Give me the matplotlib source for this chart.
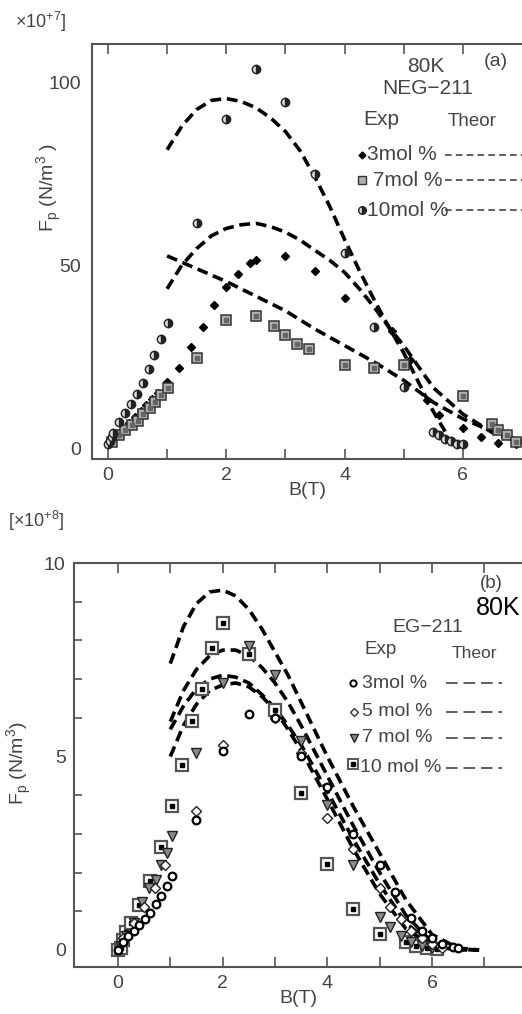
import numpy as np
import matplotlib
matplotlib.use("Agg")
from matplotlib import pyplot as plt
from matplotlib.lines import Line2D

plt.rcParams['font.family'] = ['Liberation Sans', 'DejaVu Sans']

W, H = 522, 1014

# ---------------- panel (a) NEG-211 data ----------------
a3_b = [0.05, 0.15, 0.25, 0.35, 0.45, 0.55, 0.65, 0.75, 0.85, 1.0, 1.2, 1.4, 1.6, 1.8, 2.0, 2.2, 2.4, 2.5,
        3.0, 3.5, 4.0, 4.8, 5.1, 5.4, 5.6, 6.0, 6.3, 6.6, 6.9]
a3_f = [2, 3.5, 5, 6.8, 8.5, 10, 11.8, 13.5, 15, 18, 22, 27.5, 33, 39, 44, 47.5, 50.5, 51.5,
        52.5, 48.5, 41, 32, 24, 13, 9, 5.5, 3, 1.5, 1]

a7_b = [0.06, 0.19, 0.29, 0.4, 0.5, 0.6, 0.71, 0.8, 0.9, 1.01, 1.5, 2.0, 2.5, 2.8, 3.0, 3.2, 3.4,
        4.0, 4.5, 5.0, 6.0, 6.5, 6.6, 6.75, 6.9]
a7_f = [1.7, 3.6, 4.9, 6.3, 7.5, 9.2, 10.8, 12.7, 14.5, 16.3, 24.5, 35, 36, 33.3, 30.9, 28.4, 27,
        22.7, 21.8, 22.7, 14.3, 6.5, 4.9, 3.6, 1.7]

a10_b = [0.0, 0.03, 0.06, 0.09, 0.19, 0.29, 0.39, 0.49, 0.6, 0.7, 0.77, 0.9, 1.01, 1.5, 2.0, 2.5,
         3.0, 3.5, 4.0, 4.5, 5.0, 5.5, 5.6, 5.7, 5.8, 5.9, 6.0]
a10_f = [1, 2, 3, 4.2, 7.1, 9.6, 12, 14.8, 17.8, 21.6, 25.4, 29.8, 34.2, 61.5, 90, 103.5,
         94.6, 75, 53.4, 33, 16.6, 4.5, 3.5, 2.6, 1.8, 1.2, 1.0]

# theory curves (a)
tha_hi_b = [1.0, 1.25, 1.5, 1.75, 2.0, 2.25, 2.5, 2.75, 3.0, 3.25, 3.5, 3.75, 4.0, 4.25, 4.5, 4.75,
            5.0, 5.25, 5.5, 5.7]
tha_hi_f = [81.5, 88, 92.5, 95, 95.5, 94.7, 93, 90.2, 86.5, 81.2, 74, 66, 57, 48.5, 40.5, 33,
            26, 18, 10, 4.5]
tha_mid_b = [1.0, 1.25, 1.5, 1.75, 2.0, 2.25, 2.5, 2.75, 3.0, 3.25, 3.5, 3.75, 4.0, 4.25, 4.5, 4.75,
             5.0, 5.5, 6.0, 6.5, 7.0]
tha_mid_f = [43.5, 50, 54.5, 58, 60, 61, 61.4, 60.5, 59, 56.8, 54, 51.3, 48, 43.5, 38.5, 33,
             28, 16.5, 9.3, 4.2, 1.3]
tha_lo_b = [1.0, 1.5, 2.0, 2.5, 3.0, 3.5, 4.0, 4.5, 5.0, 5.5, 6.0, 6.5, 7.0]
tha_lo_f = [52.5, 49, 45.5, 41.5, 37.5, 32.5, 28, 23.5, 18.5, 12.5, 8, 4.5, 2]

# ---------------- panel (b) EG-211 data ----------------
b3_b = [0.0, 0.1, 0.2, 0.3, 0.4, 0.52, 0.62, 0.72, 0.83, 0.94, 1.03, 1.5, 2.0, 2.5, 3.0, 3.5, 4.0,
        4.5, 5.0, 5.3, 5.6, 5.8, 6.0, 6.2, 6.4, 6.5]
b3_f = [0.0, 0.2, 0.35, 0.5, 0.65, 0.79, 0.95, 1.19, 1.4, 1.65, 1.91, 3.35, 5.15, 6.1, 6.0, 5.0, 4.2,
        3.0, 2.2, 1.5, 0.82, 0.5, 0.3, 0.15, 0.08, 0.05]

b5_b = [0.1, 0.3, 0.5, 0.7, 0.9, 1.5, 2.0, 3.0, 3.5, 4.0, 4.5, 5.0, 5.2, 5.4, 5.6, 5.8, 6.0, 6.2]
b5_f = [0.3, 0.7, 1.1, 1.6, 2.2, 3.6, 5.3, 6.0, 5.1, 3.4, 2.6, 1.6, 1.1, 0.8, 0.5, 0.3, 0.15, 0.05]

b7_b = [0.05, 0.15, 0.3, 0.45, 0.6, 0.72, 0.83, 0.94, 1.03, 1.5, 2.0, 2.5, 3.0, 3.5, 4.0, 4.5, 5.0,
        5.2, 5.4, 5.6, 5.8, 6.0]
b7_f = [0.1, 0.35, 0.7, 1.25, 1.6, 1.8, 2.2, 2.5, 2.95, 5.1, 6.9, 7.85, 7.1, 5.4, 3.75, 2.2, 0.86,
        0.6, 0.35, 0.2, 0.1, 0.05]

b10_b = [0.0, 0.05, 0.1, 0.15, 0.24, 0.41, 0.62, 0.82, 1.03, 1.23, 1.42, 1.6, 1.8, 2.0, 2.5, 3.0,
         3.5, 4.0, 4.5, 5.0, 5.5, 5.7, 5.9, 6.1]
b10_f = [0.0, 0.05, 0.26, 0.47, 0.69, 1.15, 1.77, 2.67, 3.72, 4.78, 5.92, 6.74, 7.8, 8.45, 7.64, 6.2,
         4.05, 2.21, 1.05, 0.4, 0.2, 0.1, 0.05, 0.03]

thb_b = [1.0, 1.25, 1.5, 1.75, 2.0, 2.25, 2.5, 2.75, 3.0, 3.25, 3.5, 4.0, 4.5, 5.0, 5.5, 6.0, 6.5, 6.9]
thb_10 = [7.4, 8.35, 8.95, 9.25, 9.3, 9.15, 8.8, 8.3, 7.7, 7.1, 6.4, 5.0, 3.7, 2.5, 1.3, 0.4, 0.05, 0.0]
thb_7 = [5.9, 6.7, 7.25, 7.6, 7.75, 7.75, 7.6, 7.3, 6.9, 6.4, 5.8, 4.5, 3.2, 2.0, 0.9, 0.2, 0.02, 0.0]
thb_5 = [5.7, 6.3, 6.75, 7.0, 7.1, 7.05, 6.9, 6.6, 6.25, 5.8, 5.3, 4.1, 2.85, 1.7, 0.7, 0.15, 0.02, 0.0]
thb_3 = [5.0, 5.8, 6.35, 6.7, 6.85, 6.9, 6.8, 6.55, 6.2, 5.7, 5.15, 3.9, 2.6, 1.45, 0.55, 0.1, 0.0, 0.0]

GRAY = "#555555"
TXT = "#444444"
DASH = dict(color="black", lw=2.6, dashes=(3, 1.6), solid_capstyle="butt", dash_capstyle="butt")


def fx(x):
    return x / W


def fy(y):
    return 1 - y / H


def ftext(x, y, s, size=12, color=TXT, **kw):
    fig.text(fx(x), fy(y), s, fontsize=size, color=color, va="center", **kw)


def fline(x0, x1, y, dashes, lw=1.2):
    fig.add_artist(Line2D([fx(x0), fx(x1)], [fy(y), fy(y)], transform=fig.transFigure,
                          color=TXT, lw=lw, dashes=dashes))


def fmark(x, y, **kw):
    fig.add_artist(Line2D([fx(x)], [fy(y)], transform=fig.transFigure, ls="none", **kw))


def style_axes(ax):
    for s in ["left", "bottom", "top"]:
        ax.spines[s].set_color(GRAY)
        ax.spines[s].set_linewidth(1.5)
    ax.spines["right"].set_visible(False)
    ax.tick_params(axis="x", which="both", direction="in", top=True, bottom=True, length=7,
                   width=1.2, color=GRAY, labelsize=14, labelcolor=TXT, pad=6)
    ax.tick_params(axis="y", which="both", direction="in", left=True, right=False, width=1.2,
                   color=GRAY, labelsize=14, labelcolor=TXT)


fig = plt.figure(figsize=(W / 100, H / 100), dpi=100)

# ---------------- panel (a) ----------------
ax1 = fig.add_axes([fx(92), fy(459), (W - 92) / W, (459 - 44) / H])
style_axes(ax1)
ax1.set_xlim(-0.27, 7.0)
ax1.set_ylim(-3, 110.4)
ax1.set_xticks(range(7))
ax1.set_xticklabels(["0", "", "2", "", "4", "", "6"])
ax1.set_yticks([0, 50, 100])
ax1.tick_params(axis="y", length=0, pad=8)

ax1.plot(tha_hi_b, tha_hi_f, **DASH)
ax1.plot(tha_mid_b, tha_mid_f, **DASH)
ax1.plot(tha_lo_b, tha_lo_f, **DASH)

ax1.plot(a3_b, a3_f, ls="none", marker="D", ms=4.2, mfc="black", mec="black")
ax1.plot(a7_b, a7_f, ls="none", marker="s", ms=7, mfc="#b0b0b0", mec="#333333", mew=1.1)
ax1.plot(a7_b, a7_f, ls="none", marker="s", ms=2.5, mfc="#666666", mec="#666666")
ax1.plot(a10_b, a10_f, ls="none", marker="o", ms=6, fillstyle="right", mfc="#222222",
         mfcalt="#dddddd", mec="#222222", mew=1.0)

ax1.set_xlabel("B(T)", fontsize=14, color=TXT, labelpad=-2)
ax1.set_ylabel("F$_\\mathregular{p}$ (N/m$^\\mathregular{3}$ )", fontsize=14, color=TXT)
ax1.yaxis.set_label_coords(-0.065, 0.655)

ftext(15, 22, "×10$^\\mathregular{+7}$]", size=13)
ftext(426, 67, "80K", size=15, ha="center")
ftext(428, 89, "NEG−211", size=15, ha="center")
ftext(496, 62, "(a)", size=14, ha="center")
ftext(363, 120, "Exp", size=15)
ftext(448, 121, "Theor", size=13.5)

leg_a_y = [155, 180, 210]
leg_a_lab = ["3mol %", " 7mol %", "10mol %"]
for yy, lab in zip(leg_a_y, leg_a_lab):
    ftext(367, yy, lab, size=15)
    fline(445, 522, yy, (4, 2.5))
fmark(362, 155, marker="D", ms=3.5, mfc="black", mec="black")
fmark(362, 180, marker="s", ms=5.5, mfc="#b0b0b0", mec="#333333", mew=1)
fmark(362, 210, marker="o", ms=5.5, fillstyle="right", mfc="#222222", mfcalt="#dddddd",
      mec="#222222")

# ---------------- panel (b) ----------------
ax2 = fig.add_axes([fx(74), fy(967), (W - 74) / W, (967 - 563) / H])
style_axes(ax2)
ax2.set_xlim(-0.84, 7.72)
ax2.set_ylim(-0.44, 10)
ax2.set_xticks(range(8))
ax2.set_xticklabels(["0", "", "2", "", "4", "", "6", ""])
ax2.set_yticks([0, 5, 10])
ax2.set_yticks(range(1, 10), minor=True)
ax2.tick_params(axis="y", which="major", length=0, pad=6)
ax2.tick_params(axis="y", which="minor", length=6)

for f in (thb_10, thb_7, thb_5, thb_3):
    ax2.plot(thb_b, f, **DASH)

ax2.plot(b10_b, b10_f, ls="none", marker="s", ms=8, mfc="white", mec="#555555", mew=1.6)
ax2.plot(b10_b, b10_f, ls="none", marker="s", ms=3, mfc="black", mec="black")
ax2.plot(b7_b, b7_f, ls="none", marker="v", ms=7.5, mfc="#8a8a8a", mec="#222222", mew=1.0)
ax2.plot(b5_b, b5_f, ls="none", marker="D", ms=5, mfc="white", mec="#222222", mew=1.0)
ax2.plot(b3_b, b3_f, ls="none", marker="o", ms=5.5, mfc="white", mec="black", mew=1.6)

ax2.set_xlabel("B(T)", fontsize=14, color=TXT, labelpad=-2)
ax2.set_ylabel("F$_\\mathregular{p}$ (N/m$^\\mathregular{3}$)", fontsize=14, color=TXT)
ax2.yaxis.set_label_coords(-0.09, 0.505)

ftext(8, 521, "[×10$^\\mathregular{+8}$]", size=13)
ftext(491, 583, "(b)", size=13.5, ha="center")
ftext(498, 608, "80K", size=18, color="black", ha="center")
ftext(428, 627, "EG−211", size=14, ha="center")
ftext(365, 649, "Exp", size=13.5)
ftext(452, 653, "Theor", size=12.5)

leg_b_y = [683, 712, 738, 768]
leg_b_lab = ["3mol %", "5 mol %", "7 mol %", "10 mol %"]
for yy, lab in zip(leg_b_y, leg_b_lab):
    ftext(362 if lab != "10 mol %" else 360, yy, lab, size=14)
    fline(446, 502, yy, (7, 3.5))
fmark(353, 683, marker="o", ms=4.5, mfc="white", mec="black", mew=1.4)
fmark(354, 712, marker="D", ms=4.5, mfc="white", mec="#333333", mew=1)
fmark(354, 738, marker="v", ms=6, mfc="#8a8a8a", mec="#222222", mew=1)
fmark(353, 764, marker="s", ms=6.5, mfc="white", mec="#555555", mew=1.4)
fmark(353, 764, marker="s", ms=2.5, mfc="black", mec="black")

fig.savefig("out.png", dpi=100)
